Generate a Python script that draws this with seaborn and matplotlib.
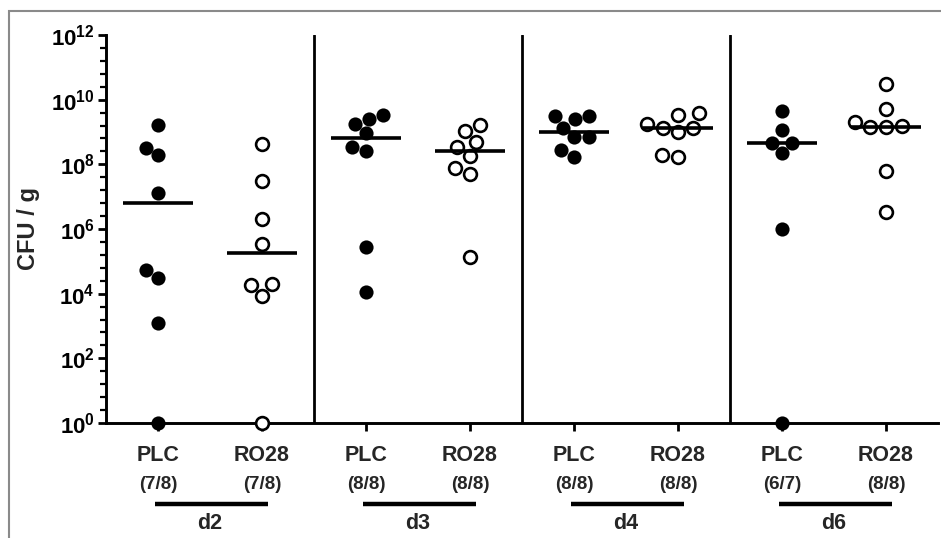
import numpy as np
import pandas as pd
import matplotlib
matplotlib.use("Agg")
import matplotlib.pyplot as plt
import matplotlib.transforms as mtransforms
from matplotlib.patches import Rectangle
import seaborn as sns

# ---------------- data (CFU / g) ----------------
days = ["d2", "d3", "d4", "d6"]
treatments = ["PLC", "RO28"]
counts = ["(7/8)", "(7/8)", "(8/8)", "(8/8)", "(8/8)", "(8/8)", "(6/7)", "(8/8)"]

d2_plc = [1.6e9, 3.3e8, 1.9e8, 1.3e7, 5.4e4, 3.1e4, 1.2e3, 1]
d2_ro28 = [4.3e8, 3.1e7, 2.0e6, 3.4e5, 2.0e4, 1.9e4, 8.5e3, 1]
d3_plc = [3.4e9, 2.5e9, 1.8e9, 9.1e8, 3.5e8, 2.5e8, 2.8e5, 1.1e4]
d3_ro28 = [1.7e9, 1.1e9, 5.0e8, 3.5e8, 1.8e8, 7.6e7, 5.2e7, 1.4e5]
d4_plc = [3.2e9, 3.1e9, 2.5e9, 1.35e9, 6.9e8, 7.0e8, 2.8e8, 1.7e8]
d4_ro28 = [3.8e9, 3.4e9, 1.8e9, 1.35e9, 1.35e9, 9.8e8, 2.0e8, 1.7e8]
d6_plc = [4.5e9, 1.15e9, 4.7e8, 4.7e8, 2.3e8, 1.0e6, 1]
d6_ro28 = [3.0e10, 5.1e9, 2.1e9, 1.5e9, 1.4e9, 1.4e9, 6.3e7, 3.3e6]

ytick_exps = [0, 2, 4, 6, 8, 10, 12]

series = [d2_plc, d2_ro28, d3_plc, d3_ro28, d4_plc, d4_ro28, d6_plc, d6_ro28]
keys = [f"{d} {t}" for d in days for t in treatments]
rows = []
for k, vals in zip(keys, series):
    day, trt = k.split()
    for v in vals:
        rows.append({"key": k, "day": day, "trt": trt, "cfu": v})
df = pd.DataFrame(rows)
med = df.groupby("key", sort=False)["cfu"].median().reset_index()

# ---------------- style ----------------
sns.set_theme(style="ticks")
plt.rcParams["font.family"] = ["Liberation Sans", "DejaVu Sans"]
plt.rcParams["font.weight"] = "bold"
plt.rcParams["mathtext.fontset"] = "custom"
plt.rcParams["mathtext.rm"] = "Liberation Sans:bold"
plt.rcParams["mathtext.bf"] = "Liberation Sans:bold"
plt.rcParams["mathtext.default"] = "bf"

fig = plt.figure(figsize=(9.41, 5.38), dpi=100)
ax = fig.add_axes([106 / 941, 1 - 423 / 538, (938 - 106) / 941, 388 / 538])

sns.swarmplot(data=df[df.trt == "PLC"], x="key", y="cfu", order=keys,
              color="black", size=10.2, linewidth=0, log_scale=True, ax=ax,
              zorder=3)
sns.swarmplot(data=df[df.trt == "RO28"], x="key", y="cfu", order=keys,
              color="white", edgecolor="black", size=9.2, linewidth=1.9,
              log_scale=True, ax=ax, zorder=3)
for c in ax.collections:
    c.set_clip_on(False)

sns.pointplot(data=med, x="key", y="cfu", order=keys, color="black",
              markers="_", markersize=50, markeredgewidth=2.6,
              linestyles="none", errorbar=None, log_scale=True, ax=ax,
              zorder=4)
for ln in ax.lines:
    ln.set_clip_on(False)

ax.set_xlim(-0.5, 7.5)
ax.set_ylim(1, 1e12)

# separators between days
for xs in [1.5, 3.5, 5.5]:
    ax.axvline(xs, color="black", lw=2.0, zorder=2)

# spines
sns.despine(ax=ax)
for s in ["left", "bottom"]:
    ax.spines[s].set_linewidth(2.1)
    ax.spines[s].set_color("black")

# y ticks
ax.set_yticks([10.0 ** e for e in ytick_exps])
ax.set_yticklabels([rf"$\mathbf{{10^{{{e}}}}}$" for e in ytick_exps],
                   fontsize=16)
ax.yaxis.set_minor_locator(matplotlib.ticker.FixedLocator(
    [10.0 ** (e + f) for e in range(0, 12, 2) for f in (0.4, 0.8, 1.2, 1.6)]))
ax.yaxis.set_minor_formatter(matplotlib.ticker.NullFormatter())
ax.tick_params(axis="y", which="major", direction="out", length=6, width=2,
               pad=2, colors="black")
ax.tick_params(axis="y", which="minor", direction="out", length=4, width=1.6,
               colors="black")

# x ticks
ax.set_xticks(range(len(keys)))
ax.set_xticklabels([])
ax.tick_params(axis="x", which="major", direction="out", length=6, width=2,
               colors="black")
ax.set_xlabel("")
ax.set_ylabel("CFU / g", fontsize=17, fontweight="bold", labelpad=8)

trans = mtransforms.blended_transform_factory(ax.transData, ax.transAxes)
for i, k in enumerate(keys):
    trt = k.split()[1]
    ax.text(i, -0.084, trt, transform=trans, ha="center", va="center",
            fontsize=15.5, fontweight="bold")
    ax.text(i, -0.158, counts[i], transform=trans, ha="center", va="center",
            fontsize=13.5, fontweight="bold")
for j, d in enumerate(days):
    x0 = 2 * j
    ax.plot([x0 - 0.03, x0 + 1.06], [-0.21, -0.21], transform=trans,
            color="black", lw=3.2, clip_on=False, solid_capstyle="butt")
    ax.text(x0 + 0.5, -0.258, d, transform=trans, ha="center", va="center",
            fontsize=15.5, fontweight="bold")

# grey frame around the figure
fig.patches.append(Rectangle((9 / 941, -0.05), 1.2, 1 - 11 / 538 + 0.05,
                             transform=fig.transFigure, fill=False,
                             edgecolor="#8a8a8a", lw=1.5))

fig.savefig("out.png", dpi=100)
